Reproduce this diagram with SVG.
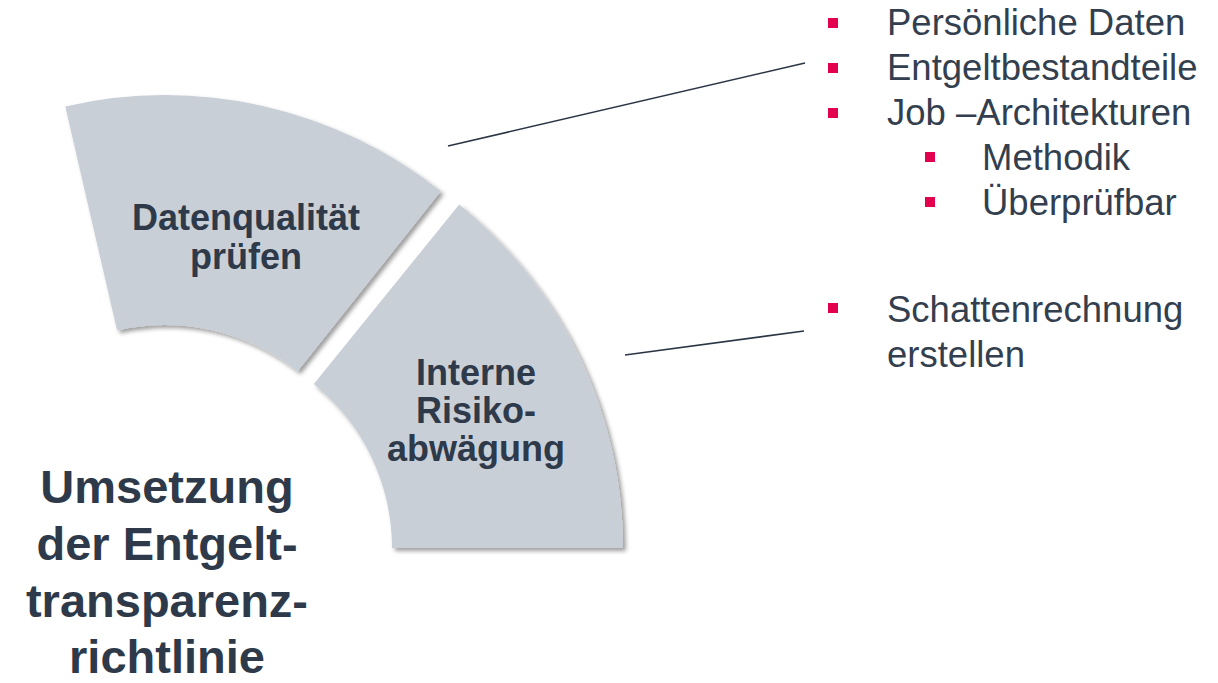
<svg xmlns="http://www.w3.org/2000/svg" width="1218" height="683" viewBox="0 0 1218 683">
  <defs>
    <filter id="shadow" x="-10%" y="-10%" width="125%" height="125%">
      <feDropShadow dx="3" dy="3" stdDeviation="2.2" flood-color="#000000" flood-opacity="0.38"/>
    </filter>
  </defs>
  <style>
    .seg { fill: #C9CFD7; filter: url(#shadow); }
    .lbl { font-family: Arial, "Liberation Sans", sans-serif; font-weight: bold; font-size: 36px; fill: #2E3A4A; text-anchor: middle; }
    .title { font-family: Arial, "Liberation Sans", sans-serif; font-weight: bold; font-size: 47px; fill: #2E3A4A; text-anchor: middle; }
    .item { font-family: Arial, "Liberation Sans", sans-serif; font-size: 36.5px; fill: #333F4F; }
    .bullet { fill: #E2004F; }
    .conn { stroke: #2B3645; stroke-width: 1.6; fill: none; }
  </style>
  <rect width="1218" height="683" fill="#FFFFFF"/>

  <g id="node-datenqualitaet">
    <path class="seg" d="M 440.8 191.3 A 443 443 0 0 0 65.3 106.4 L 117.1 330.5 A 213 213 0 0 1 297.6 371.3 Z"/>
    <text class="lbl" x="246" y="230">Datenqualität</text>
    <text class="lbl" x="246" y="269">prüfen</text>
  </g>

  <g id="node-risiko">
    <path class="seg" d="M 623 548 A 442 442 0 0 0 459.2 204.5 L 313.8 384 A 211 211 0 0 1 392 548 Z"/>
    <text class="lbl" x="476" y="385">Interne</text>
    <text class="lbl" x="476" y="423">Risiko-</text>
    <text class="lbl" x="476" y="461">abwägung</text>
  </g>

  <g id="node-title">
    <text class="title" x="167" y="503">Umsetzung</text>
    <text class="title" x="167" y="560">der Entgelt-</text>
    <text class="title" x="167" y="617">transparenz-</text>
    <text class="title" x="167" y="673">richtlinie</text>
  </g>

  <g id="connectors">
    <line class="conn" x1="448" y1="146" x2="805" y2="63"/>
    <line class="conn" x1="625" y1="355" x2="804" y2="331"/>
  </g>

  <g id="node-list-daten">
    <rect class="bullet" x="828" y="18" width="10" height="10"/>
    <text class="item" x="887" y="35">Persönliche Daten</text>
    <rect class="bullet" x="828" y="63" width="10" height="10"/>
    <text class="item" x="887" y="80">Entgeltbestandteile</text>
    <rect class="bullet" x="828" y="108" width="10" height="10"/>
    <text class="item" x="887" y="125">Job –Architekturen</text>
    <rect class="bullet" x="925" y="152" width="10" height="10"/>
    <text class="item" x="982" y="170">Methodik</text>
    <rect class="bullet" x="925" y="197" width="10" height="10"/>
    <text class="item" x="982" y="215">Überprüfbar</text>
  </g>

  <g id="node-list-schatten">
    <rect class="bullet" x="828" y="303" width="10" height="10"/>
    <text class="item" x="887" y="322">Schattenrechnung</text>
    <text class="item" x="887" y="367">erstellen</text>
  </g>
</svg>
